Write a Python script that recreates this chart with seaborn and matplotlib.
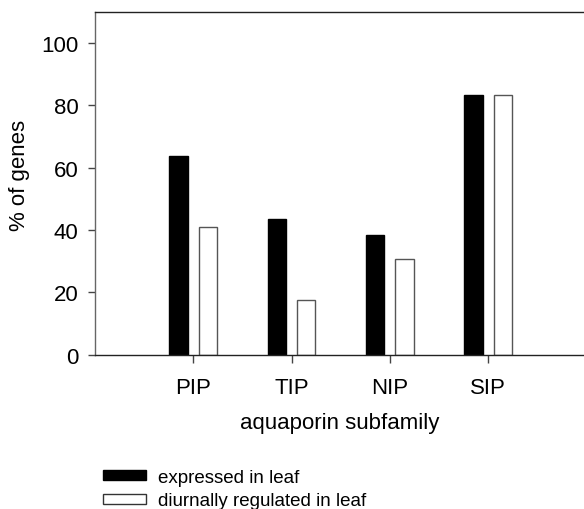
import pandas as pd
import matplotlib
matplotlib.use('Agg')
import matplotlib.pyplot as plt
import seaborn as sns

# values (% of genes)
subfamilies = ['PIP', 'TIP', 'NIP', 'SIP']
expressed = [63.6, 43.5, 38.5, 83.3]
diurnal = [40.9, 17.4, 30.8, 83.3]
series_names = ['expressed in leaf', 'diurnally regulated in leaf']

df = pd.DataFrame({
    'subfamily': subfamilies * 2,
    'pct': expressed + diurnal,
    'series': [series_names[0]] * 4 + [series_names[1]] * 4,
})

sns.set_style('white')
plt.rcParams['font.family'] = ['Liberation Sans', 'DejaVu Sans']
plt.rcParams['text.color'] = 'black'
plt.rcParams['axes.labelcolor'] = 'black'
plt.rcParams['xtick.color'] = 'black'
plt.rcParams['ytick.color'] = 'black'

fig = plt.figure(figsize=(5.84, 5.10), dpi=100)
ax = fig.add_axes([95 / 584, 154.3 / 510, 489 / 584, 343 / 510])

sns.barplot(data=df, x='subfamily', y='pct', hue='series', order=subfamilies,
            hue_order=series_names, palette=['black', 'white'],
            width=0.6, gap=0.38, ax=ax, legend=False)

# black bars first, then white bars
for i, p in enumerate(ax.patches):
    if i < 4:
        p.set_facecolor('black')
        p.set_edgecolor('black')
    else:
        p.set_facecolor('white')
        p.set_edgecolor('#555555')
    p.set_linewidth(1)

ax.set_xlim(-1, 3.975)
ax.set_ylim(0, 110)
ax.set_yticks([0, 20, 40, 60, 80, 100])

for side in ['top', 'bottom', 'left']:
    ax.spines[side].set_visible(True)
    ax.spines[side].set_color('#222222')
    ax.spines[side].set_linewidth(1)
ax.spines['left'].set_color('#666666')
ax.spines['right'].set_visible(False)

ax.tick_params(axis='both', direction='out', width=1, labelsize=16,
               left=True, bottom=True)
ax.tick_params(axis='y', length=5, pad=7, color='#444444')
ax.tick_params(axis='x', length=6, pad=10, color='#444444')
ax.set_xlabel('aquaporin subfamily', fontsize=16, labelpad=10)
ax.set_ylabel('% of genes', fontsize=16)
ax.yaxis.set_label_coords(-0.155, 0.527)
ax.yaxis.label.set_va('center')

handles = [plt.Rectangle((0, 0), 1, 1, facecolor='black', edgecolor='black'),
           plt.Rectangle((0, 0), 1, 1, facecolor='white', edgecolor='#333333')]
fig.legend(handles, series_names, loc='lower left', bbox_to_anchor=(0.157, -0.023),
           frameon=False, fontsize=13.5, handlelength=2.3, handleheight=0.45,
           handletextpad=0.65, labelspacing=0.35, borderaxespad=0.2)

fig.savefig('out.png', dpi=100)
